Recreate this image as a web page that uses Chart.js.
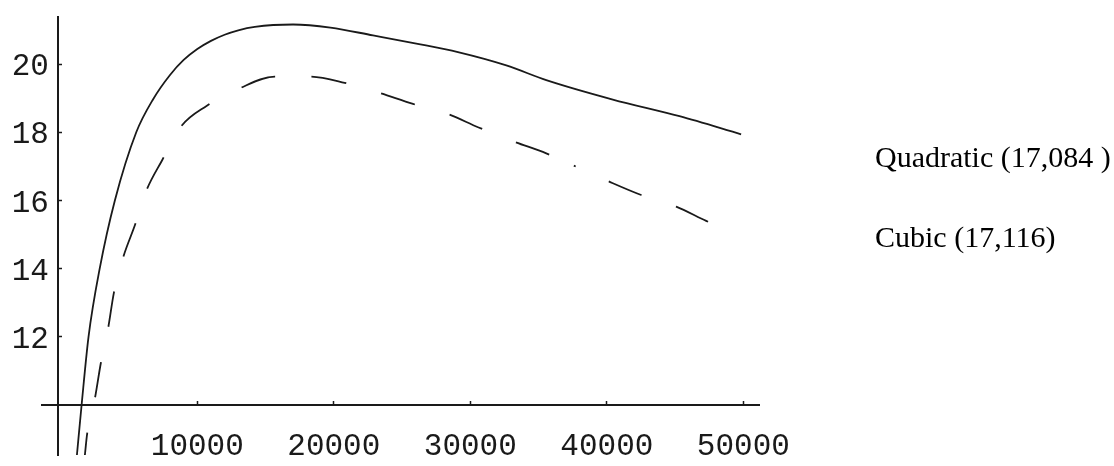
<!DOCTYPE html>
<html><head><meta charset="utf-8">
<script src="https://cdn.jsdelivr.net/npm/chart.js@4/dist/chart.umd.min.js"></script>
<style>
html,body{margin:0;padding:0;background:#fff;}
#wrap{position:relative;width:1114px;height:466px;overflow:hidden;}
canvas{position:absolute;left:0;top:0;}
.lbl{position:absolute;left:875px;font-family:"Liberation Serif","Times New Roman",serif;font-size:30px;line-height:30px;color:#000;white-space:pre;}
</style></head><body>
<div id="wrap"><canvas id="c" width="1114" height="466"></canvas>
<div class="lbl" id="l0" style="top:141.6px"></div>
<div class="lbl" id="l1" style="top:221.6px"></div></div>
<script>
// Series names (shown as text at right)
const seriesNames = ["Quadratic (17,084 )", "Cubic (17,116)"];
// Quadratic (solid)
const quadX = [1180, 1523, 2030, 2848, 3960, 5527, 6764, 8000, 9000, 10000, 11000, 12000, 13000, 14210, 17013, 19751, 22870, 26047, 29093, 32636, 35564, 40439, 45322, 49839];
const quadY = [8.534, 10, 12, 14, 16, 18, 18.97, 19.68, 20.12, 20.44, 20.68, 20.86, 20.99, 21.09, 21.16, 21.07, 20.84, 20.60, 20.35, 19.96, 19.53, 18.96, 18.47, 17.94];
// Cubic (dashed)
const cubicX = [1764, 1933, 2496, 2936, 3470, 3887, 4568, 5425, 6281, 7423, 8792, 10674, 13060, 15673, 18236, 20798, 23236, 25798, 28243, 30608, 33243, 35564, 37584, 40073, 42518, 45081, 47277, 49840];
const cubicY = [8.534, 9.17, 10.19, 11.24, 12.26, 13.29, 14.33, 15.27, 16.30, 17.18, 18.16, 18.77, 19.28, 19.63, 19.63, 19.45, 19.17, 18.83, 18.55, 18.14, 17.72, 17.38, 17.02, 16.57, 16.16, 15.82, 15.40, 14.95];
// Ticks
const xTickValues = [10000, 20000, 30000, 40000, 50000];
const yTickValues = [12, 14, 16, 18, 20];
// Axis ranges / crossing
const xMin = -1400, xMax = 51170, yMin = 8.534, yMax = 21.38;
const axisCrossX = -190, axisCrossY = 10;
// x at which the dash pattern of the cubic curve restarts (as in the original plot)
const cubicDashRestartX = 37584;

document.getElementById('l0').textContent = seriesNames[0];
document.getElementById('l1').textContent = seriesNames[1];

const tickFont = {family: "'Liberation Mono', 'Courier New', monospace", size: 31};
const ink = '#1a1a1a';
const restartIdx = cubicX.indexOf(cubicDashRestartX);

new Chart(document.getElementById('c'), {
  type: 'line',
  data: {
    datasets: [
      {label: seriesNames[0], data: quadX.map((x, i) => ({x, y: quadY[i]})),
       borderColor: ink, borderWidth: 1.8, pointRadius: 0, fill: false, cubicInterpolationMode: 'monotone'},
      {label: seriesNames[1], data: cubicX.map((x, i) => ({x, y: cubicY[i]})),
       borderColor: ink, borderWidth: 1.8, pointRadius: 0, fill: false, cubicInterpolationMode: 'monotone',
       borderDash: [35.5, 36.3], borderDashOffset: 13,
       segment: {borderDashOffset: c => (c.p0DataIndex >= restartIdx ? 33.5 : 13)}}
    ]
  },
  options: {
    responsive: false, animation: false, events: [],
    layout: {autoPadding: false, padding: {left: 41.7, top: 17, right: 354.7, bottom: 11}},
    plugins: {legend: {display: false}, tooltip: {enabled: false}},
    scales: {
      x: {
        type: 'linear', min: xMin, max: xMax, position: {y: axisCrossY},
        afterBuildTicks: s => { s.ticks = xTickValues.map(v => ({value: v})); },
        afterFit: s => { s.height = 0; s.paddingLeft = 0; s.paddingRight = 0; },
        grid: {drawOnChartArea: false, drawTicks: true, tickLength: -5, tickColor: ink, tickWidth: 1.5},
        border: {display: true, color: ink, width: 2},
        ticks: {font: tickFont, color: ink, padding: 28, maxRotation: 0, autoSkip: false, callback: v => String(v)}
      },
      y: {
        type: 'linear', min: yMin, max: yMax, position: {x: axisCrossX},
        afterBuildTicks: s => { s.ticks = yTickValues.map(v => ({value: v})); },
        afterFit: s => { s.width = 0; s.paddingTop = 0; s.paddingBottom = 0; },
        grid: {drawOnChartArea: false, drawTicks: true, tickLength: -5, tickColor: ink, tickWidth: 1.5},
        border: {display: true, color: ink, width: 2},
        ticks: {display: false}
      },
      yLabels: {
        axis: 'y', type: 'linear', min: yMin, max: yMax, position: 'left',
        afterBuildTicks: s => { s.ticks = yTickValues.map(v => ({value: v})); },
        afterFit: s => { s.width = 0; s.paddingTop = 0; s.paddingBottom = 0; },
        grid: {display: false, drawTicks: false},
        border: {display: false},
        ticks: {font: tickFont, color: ink, mirror: true, crossAlign: 'near', padding: -30, labelOffset: 3, callback: v => String(v)}
      }
    }
  }
});
</script>
</body></html>
